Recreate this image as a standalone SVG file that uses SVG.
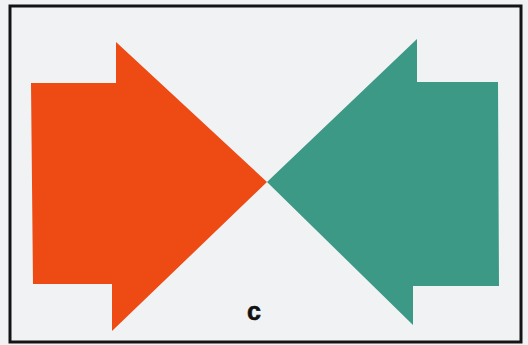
<svg xmlns="http://www.w3.org/2000/svg" width="528" height="345" viewBox="0 0 528 345">
<style>
.frame{fill:none;stroke:#141414;stroke-width:3}
.red{fill:#ee4a14}
.teal{fill:#3c9985}
.lbl{font-family:"Liberation Sans",Arial,sans-serif;font-weight:bold;font-size:25px;fill:#111}
</style>
<rect x="0" y="0" width="528" height="345" fill="#f1f2f4"/>
<rect class="frame" x="10" y="6" width="511" height="336"/>
<g id="red-arrow">
<polygon class="red" points="31,83 116,83 116,42 267,182 112,331 112,284 33,284"/>
</g>
<g id="teal-arrow">
<polygon class="teal" points="498,82 417,82 417,39 267,182 413,325 413,286 499,286"/>
</g>
<g id="connectors"></g>
<g id="label">
<text class="lbl" x="254" y="320" text-anchor="middle" stroke="#111" stroke-width="0.6">c</text>
</g>
</svg>
